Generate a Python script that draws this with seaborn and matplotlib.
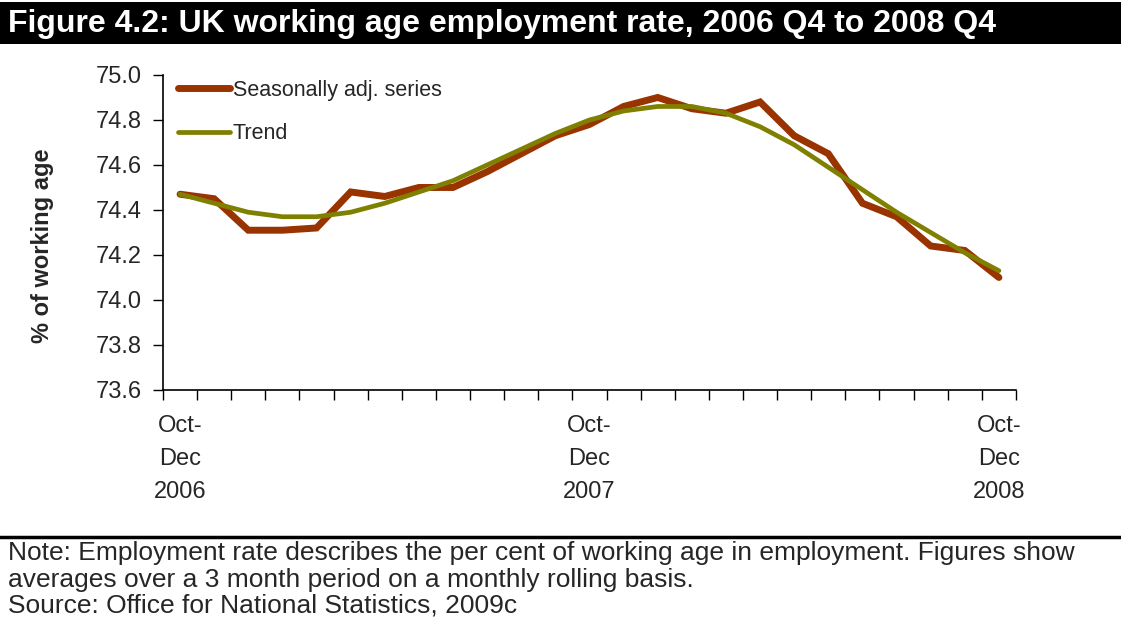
import numpy as np
import pandas as pd
import matplotlib
matplotlib.use("Agg")
import matplotlib.pyplot as plt
import seaborn as sns

# Rolling three-month periods, Oct-Dec 2006 through Oct-Dec 2008
periods = list(range(25))
seasonally_adjusted = [74.47, 74.45, 74.31, 74.31, 74.32, 74.48, 74.46, 74.50, 74.50,
                       74.57, 74.65, 74.73, 74.78, 74.86, 74.90, 74.85, 74.83, 74.88,
                       74.73, 74.65, 74.43, 74.37, 74.24, 74.22, 74.10]
trend = [74.47, 74.43, 74.39, 74.37, 74.37, 74.39, 74.43, 74.48, 74.53,
         74.60, 74.67, 74.74, 74.80, 74.84, 74.86, 74.86, 74.83, 74.77,
         74.69, 74.59, 74.49, 74.39, 74.30, 74.21, 74.13]
label_positions = [0, 12, 24]
label_texts = ["Oct-\nDec\n2006", "Oct-\nDec\n2007", "Oct-\nDec\n2008"]
y_ticks = [73.6, 73.8, 74.0, 74.2, 74.4, 74.6, 74.8, 75.0]

sns.set_theme(style="white")
plt.rcParams["font.family"] = ["Liberation Sans", "DejaVu Sans"]

df = pd.DataFrame({
    "period": periods * 2,
    "rate": seasonally_adjusted + trend,
    "series": ["Seasonally adj. series"] * 25 + ["Trend"] * 25,
})

fig = plt.figure(figsize=(11.21, 6.29), dpi=100)
ax = fig.add_axes([0.1454, 0.3800, 0.9063 - 0.1454, 0.8808 - 0.3800])

palette = {"Seasonally adj. series": "#993300", "Trend": "#808000"}
sns.lineplot(data=df, x="period", y="rate", hue="series", palette=palette,
             ax=ax, legend=False, estimator=None, sort=False)
for line, lw in zip(ax.lines, [5.0, 3.4]):
    line.set_linewidth(lw)
    line.set_solid_capstyle("round")
    line.set_solid_joinstyle("miter")

ax.set_xlim(-0.5, 24.5)
ax.set_ylim(73.6, 75.0)

# Category boundaries as major ticks, period labels as minor ticks
ax.set_xticks(np.arange(-0.5, 25, 1.0))
ax.set_xticklabels([])
ax.set_xticks(label_positions, minor=True)
ax.set_xticklabels(label_texts, minor=True, fontsize=17, linespacing=1.65)
ax.tick_params(axis="x", which="major", direction="out", length=7, width=1, color="black",
               bottom=True)
ax.tick_params(axis="x", which="minor", length=0, pad=18, bottom=True)

ax.set_yticks(y_ticks)
ax.set_yticklabels([f"{v:.1f}" for v in y_ticks], fontsize=17)
ax.tick_params(axis="y", direction="out", length=7, width=1, color="black", left=True, pad=8)

ax.set_xlabel("")
ax.set_ylabel("% of working age", fontsize=17, fontweight="bold")
ax.yaxis.set_label_coords(-0.128, 0.457)

for side in ["top", "right"]:
    ax.spines[side].set_visible(False)
for side in ["left", "bottom"]:
    ax.spines[side].set_color("black")
    ax.spines[side].set_linewidth(1.2)
ax.grid(False)

handles = ax.lines[:2]
leg = ax.legend(handles, ["Seasonally adj. series", "Trend"], loc="upper left",
                bbox_to_anchor=(0.0176, 0.985), frameon=False, fontsize=15.5,
                handlelength=2.4, handletextpad=0.15, labelspacing=1.05,
                borderaxespad=0.0, borderpad=0.0)

# Title band
fig.patches.append(plt.Rectangle((0, 1 - 44 / 629), 1, 42 / 629, transform=fig.transFigure,
                                 facecolor="black", edgecolor="none", zorder=0))
fig.text(8 / 1121, 1 - 24 / 629, "Figure 4.2: UK working age employment rate, 2006 Q4 to 2008 Q4",
         color="white", fontsize=23, fontweight="bold", va="center", ha="left")

# Rule above the notes
fig.add_artist(plt.Line2D([0, 1], [1 - 537 / 629, 1 - 537 / 629], transform=fig.transFigure,
                          color="black", linewidth=2.5))

fig.text(8 / 1121, 1 - 553 / 629,
         "Note: Employment rate describes the per cent of working age in employment. Figures show",
         fontsize=19, va="center", ha="left")
fig.text(8 / 1121, 1 - 580 / 629,
         "averages over a 3 month period on a monthly rolling basis.",
         fontsize=19, va="center", ha="left")
fig.text(8 / 1121, 1 - 606 / 629, "Source: Office for National Statistics, 2009c",
         fontsize=19, va="center", ha="left")

fig.savefig("out.png", dpi=100)
